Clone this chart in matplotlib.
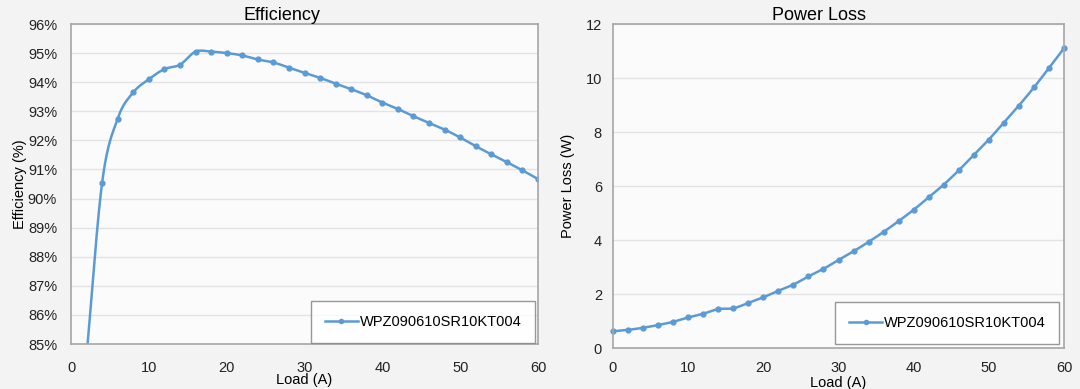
import numpy as np
import matplotlib
matplotlib.use("Agg")
import matplotlib.pyplot as plt
from matplotlib.ticker import FuncFormatter

plt.rcParams['font.family'] = ['Liberation Sans', 'DejaVu Sans']

load = [0, 2, 4, 6, 8, 10, 12, 14, 16, 18, 20, 22, 24, 26, 28, 30,
        32, 34, 36, 38, 40, 42, 44, 46, 48, 50, 52, 54, 56, 58, 60]
eff_load = load[1:]
efficiency = [84.6, 90.55, 92.75, 93.65, 94.1, 94.45, 94.6, 95.05, 95.05,
              95.0, 94.92, 94.78, 94.68, 94.5, 94.32, 94.15, 93.95, 93.76,
              93.55, 93.3, 93.08, 92.83, 92.6, 92.37, 92.1, 91.8, 91.52,
              91.25, 90.97, 90.67]
power_loss = [0.62, 0.67, 0.75, 0.85, 0.97, 1.13, 1.27, 1.44, 1.47, 1.67,
              1.88, 2.12, 2.35, 2.65, 2.93, 3.26, 3.58, 3.93, 4.30, 4.70,
              5.12, 5.58, 6.05, 6.58, 7.15, 7.72, 8.35, 8.98, 9.65, 10.37,
              11.1]
series_name = "WPZ090610SR10KT004"

BLUE = "#5B9BD5"
W, H = 1080, 389


def smooth(x, y, n=20):
    """Catmull-Rom spline through the points (Excel-like smoothed line)."""
    x = np.asarray(x, float)
    y = np.asarray(y, float)
    P = np.column_stack([x, y])
    P = np.vstack([P[0] * 2 - P[1], P, P[-1] * 2 - P[-2]])
    out = []
    t = np.linspace(0, 1, n, endpoint=False)[:, None]
    for i in range(1, len(P) - 2):
        p0, p1, p2, p3 = P[i - 1], P[i], P[i + 1], P[i + 2]
        seg = 0.5 * ((2 * p1) + (-p0 + p2) * t +
                     (2 * p0 - 5 * p1 + 4 * p2 - p3) * t ** 2 +
                     (-p0 + 3 * p1 - 3 * p2 + p3) * t ** 3)
        out.append(seg)
    out.append(P[-2][None, :])
    out = np.vstack(out)
    return out[:, 0], out[:, 1]


def box(l, r, t, b):
    return [l / W, 1 - b / H, (r - l) / W, (b - t) / H]


fig = plt.figure(figsize=(10.8, 3.89), dpi=100, facecolor="#f3f3f3")

ax1 = fig.add_axes(box(71, 538, 24, 344))
ax2 = fig.add_axes(box(613, 1064, 24, 348))

for ax in (ax1, ax2):
    ax.set_facecolor("#fbfbfb")
    for s in ax.spines.values():
        s.set_color("#a6a6a6")
        s.set_linewidth(1.2)
    ax.grid(axis="y", color="#e3e3e3", linewidth=1)
    ax.set_axisbelow(True)
    ax.tick_params(length=0, labelsize=10.5, colors="#222222")
    ax.set_xlim(0, 60)
    ax.set_xticks(range(0, 61, 10))

# Efficiency
sx, sy = smooth(eff_load, efficiency)
ax1.plot(sx, sy, color=BLUE, lw=1.8)
ax1.plot(eff_load, efficiency, "o", color=BLUE, ms=3.5)
ax1.plot([], [], "-o", color=BLUE, lw=1.8, ms=3, label=series_name)
ax1.set_ylim(85, 96)
ax1.set_yticks(range(85, 97))
ax1.yaxis.set_major_formatter(FuncFormatter(lambda v, p: f"{v:.0f}%"))
ax1.tick_params(axis="y", pad=10)
ax1.tick_params(axis="x", pad=12)
ax1.set_title("Efficiency", fontsize=13, pad=3, x=(282 - 71) / (538 - 71))
ax1.set_xlabel("Load (A)", fontsize=10.5, va="center")
ax1.xaxis.set_label_coords(0.5, -(380 - 344) / 320)
ax1.set_ylabel("Efficiency (%)", fontsize=10.5, va="center")
ax1.yaxis.set_label_coords(-(71 - 20) / 467, 0.5)

# Power loss
sx, sy = smooth(load, power_loss)
ax2.plot(sx, sy, color=BLUE, lw=1.8)
ax2.plot(load, power_loss, "o", color=BLUE, ms=3.5, clip_on=False)
ax2.plot([], [], "-o", color=BLUE, lw=1.8, ms=3, label=series_name)
ax2.set_ylim(0, 12)
ax2.set_yticks(range(0, 13, 2))
ax2.tick_params(axis="y", pad=8)
ax2.tick_params(axis="x", pad=9.5)
ax2.set_title("Power Loss", fontsize=13, pad=3, x=(819 - 613) / (1064 - 613))
ax2.set_xlabel("Load (A)", fontsize=10.5, va="center")
ax2.xaxis.set_label_coords(0.5, -(382.5 - 348) / 324)
ax2.set_ylabel("Power Loss (W)", fontsize=10.5, va="center")
ax2.yaxis.set_label_coords(-(613 - 568) / 451, 0.5)

for ax, anchor in ((ax1, (0.994, 0.004)), (ax2, (0.99, 0.013))):
    leg = ax.legend(loc="lower right", bbox_to_anchor=anchor, fontsize=10.5,
                    frameon=True, fancybox=False, borderpad=0.95,
                    handlelength=2.3, handletextpad=0.1, borderaxespad=0)
    leg.get_frame().set_edgecolor("#7f7f7f")
    leg.get_frame().set_linewidth(1.0)
    leg.get_frame().set_facecolor("white")

fig.savefig("out.png", dpi=100, facecolor=fig.get_facecolor())
